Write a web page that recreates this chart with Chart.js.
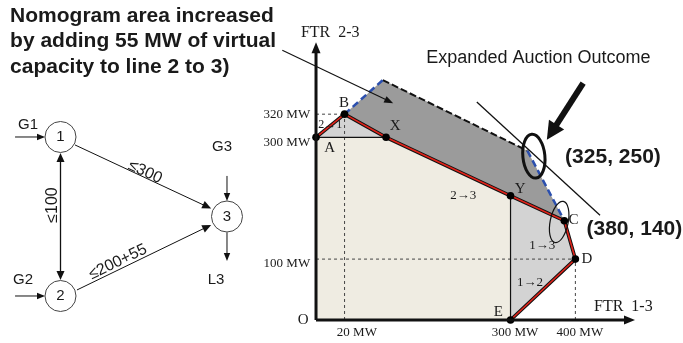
<!DOCTYPE html>
<html lang="en">
<head>
  <meta charset="UTF-8" />
  <title>FTR nomogram with virtual capacity</title>
  <style>
    body { margin: 0; background: #fff; }
    #wrap { width: 683px; height: 343px; }
  </style>
</head>
<body>

  <div id="wrap"><canvas id="nomogram"></canvas></div>

  <script src="https://cdn.jsdelivr.net/npm/chart.js"></script>

  <script>
    // nomogram corners, in the (schematic) FTR 1-3 / FTR 2-3 units of the drawing
    const ptO = [0, 0];
    const ptA = [0, 300];
    const ptB = [44, 338];
    const ptX = [108, 300];
    const ptY = [300, 204];
    const ptC = [383, 163];
    const ptD = [400, 100];
    const ptE = [300, 0];
    const ptT1 = [103, 394];   // expanded corner above B
    const ptT2 = [326, 278];   // expanded corner at the auction outcome

    const beigeArea = [ptO, ptA, ptX, ptY, ptE];
    const triangleArea = [ptA, ptB, ptX];
    const rightArea = [ptY, ptC, ptD, ptE];
    const addedArea = [ptB, ptT1, ptT2, ptC, ptY, ptX];
    const boundary = [ptA, ptB, ptX, ptY, ptC, ptD, ptE];
    const vertices = [ptA, ptB, ptX, ptY, ptC, ptD, ptE];
    const guides = [[[44, 0], [44, 338]], [[0, 338], [44, 338]], [[0, 100], [400, 100]], [[400, 0], [400, 100]]];
    const solidEdges = [[ptA, ptX], [ptY, ptE]];
    const blueEdges = [[ptB, ptT1], [ptT2, ptC]];
    const topEdge = [ptT1, ptT2];

    // tick labels (value where the label sits)
    const yTickPos = [337, 292, 92];
    const yTickText = ['320 MW', '300 MW', '100 MW'];
    const xTickPos = [63, 307, 407];
    const xTickText = ['20 MW', '300 MW', '400 MW'];

    // 3-bus network (own unit coordinates)
    const nodes = [[1, 0.5], [0, 1], [0, 0]];
    const nodeNames = ['3', '1', '2'];

    const colors = {
      beige: '#efece2',
      light: '#d3d3d3',
      dark: '#9b9b9b',
      red: '#e2231a',
      blue: '#2b4fae'
    };

    const xy = pts => pts.map(([x, y]) => ({ x, y }));

    const datasets = [];
    const area = (pts, color) => datasets.push({
      data: xy(pts), fill: 'shape', backgroundColor: color, borderWidth: 0, pointRadius: 0
    });
    const path = (pts, color, width, dash) => datasets.push({
      data: xy(pts), fill: false, borderColor: color, borderWidth: width,
      borderDash: dash || [], pointRadius: 0
    });

    area(beigeArea, colors.beige);
    area(triangleArea, colors.light);
    area(rightArea, colors.light);
    area(addedArea, colors.dark);
    guides.forEach(g => path(g, '#444', 1, [3, 3]));
    solidEdges.forEach(g => path(g, '#111', 1.2));
    path(topEdge, '#111', 2, [7, 3]);
    blueEdges.forEach(g => path(g, colors.blue, 2.5, [7, 4]));
    path(boundary, '#111', 3.6);
    path(boundary, colors.red, 1.6);
    datasets.push({
      data: xy(vertices), showLine: false, pointRadius: 3.8,
      pointBackgroundColor: '#000', pointBorderWidth: 0
    });
    datasets.push({
      data: xy(nodes), xAxisID: 'nx', yAxisID: 'ny', showLine: false,
      pointRadius: 15.5, pointBackgroundColor: '#fff', pointBorderColor: '#444', pointBorderWidth: 1
    });
    // first pushed = bottom layer
    datasets.forEach((d, i) => { d.order = -i; d.clip = false; });

    // arrows: m = nomogram axes, n = network axes
    const arrows = [
      { sys: 'm', from: [0, 0], to: [0, 456], width: 3, head: 11, half: 4.5 },
      { sys: 'm', from: [0, 0], to: [492, 0], width: 3, head: 11, half: 4.5 },
      { sys: 'm', from: [-52, 443], to: [119, 356], width: 1.1, head: 9, half: 3.5 },
      { sys: 'm', from: [412, 389], to: [356, 296], width: 6, head: 18, half: 9 },
      { sys: 'm', from: [248, 358], to: [438, 172], width: 1.3, head: 0, half: 0 },
      { sys: 'n', from: [-0.273, 1], to: [-0.093, 1], width: 1, head: 8, half: 3.2 },
      { sys: 'n', from: [-0.273, 0], to: [-0.093, 0], width: 1, head: 8, half: 3.2 },
      { sys: 'n', from: [1, 0.755], to: [1, 0.597], width: 1, head: 8, half: 3.2 },
      { sys: 'n', from: [1, 0.4], to: [1, 0.22], width: 1, head: 8, half: 3.2 },
      { sys: 'n', from: [0.087, 0.95], to: [0.905, 0.55], width: 1, head: 9, half: 4 },
      { sys: 'n', from: [0.099, 0.038], to: [0.905, 0.447], width: 1, head: 9, half: 4 },
      { sys: 'n', from: [0, 0.9], to: [0, 0.1], width: 1.3, head: 9, half: 4, both: true }
    ];

    const rings = [
      { center: [336, 269], rx: 11, ry: 22, rot: -0.1, width: 3 },
      { center: [375, 161], rx: 9, ry: 21, rot: 0.2, width: 1.2 }
    ];

    const serif = '"Liberation Serif", "DejaVu Serif", serif';
    const sans = '"Liberation Sans", Arial, sans-serif';
    const labels = [
      { sys: 'm', at: [-20, 0], text: 'O', font: '15px ' + serif },
      { sys: 'm', at: [21, 282], text: 'A', font: '15px ' + serif },
      { sys: 'm', at: [43, 356], text: 'B', font: '15px ' + serif },
      { sys: 'm', at: [122, 318], text: 'X', font: '15px ' + serif },
      { sys: 'm', at: [315, 215], text: 'Y', font: '15px ' + serif },
      { sys: 'm', at: [397, 164], text: 'C', font: '15px ' + serif },
      { sys: 'm', at: [418, 100], text: 'D', font: '15px ' + serif },
      { sys: 'm', at: [281, 13], text: 'E', font: '15px ' + serif },
      { sys: 'm', at: [227, 205], text: '2\u21923', font: '13px ' + serif },
      { sys: 'm', at: [349, 123], text: '1\u21923', font: '13px ' + serif },
      { sys: 'm', at: [330, 61], text: '1\u21922', font: '13px ' + serif },
      { sys: 'm', at: [22, 320], text: '2\u21921', font: '12px ' + serif },
      { sys: 'm', at: [22, 471], text: 'FTR  2-3', font: '16px ' + serif },
      { sys: 'm', at: [474, 21], text: 'FTR  1-3', font: '16px ' + serif },
      { sys: 'm', at: [343, 430], text: 'Expanded Auction Outcome', font: '18px ' + sans },
      { sys: 'm', at: [458, 268], text: '(325, 250)', font: 'bold 21px ' + sans },
      { sys: 'm', at: [491, 149], text: '(380, 140)', font: 'bold 21px ' + sans },
      { sys: 'n', at: [-0.195, 1.075], text: 'G1', font: '15px ' + sans },
      { sys: 'n', at: [-0.225, 0.10], text: 'G2', font: '15px ' + sans },
      { sys: 'n', at: [0.97, 0.937], text: 'G3', font: '15px ' + sans },
      { sys: 'n', at: [0.934, 0.10], text: 'L3', font: '15px ' + sans },
      { sys: 'n', at: [0.508, 0.78], text: '\u2264300', font: '16px ' + sans, rot: 0.44 },
      { sys: 'n', at: [0.345, 0.214], text: '\u2264200+55', font: '16px ' + sans, rot: -0.45 },
      { sys: 'n', at: [-0.045, 0.572], text: '\u2264100', font: '16px ' + sans, rot: -Math.PI / 2 },
      { sys: 'n', at: [-0.303, 1.76], text: 'Nomogram area increased', font: 'bold 21px ' + sans, align: 'left' },
      { sys: 'n', at: [-0.303, 1.60], text: 'by adding 55 MW of virtual', font: 'bold 21px ' + sans, align: 'left' },
      { sys: 'n', at: [-0.303, 1.44], text: 'capacity to line 2 to 3)', font: 'bold 21px ' + sans, align: 'left' }
    ];
    yTickPos.forEach((v, i) => labels.push({ sys: 'm', at: [-9, v], text: yTickText[i], font: '13px ' + serif, align: 'right' }));
    xTickPos.forEach((v, i) => labels.push({ sys: 'm', at: [v, -21], text: xTickText[i], font: '13px ' + serif }));
    nodes.forEach((p, i) => labels.push({ sys: 'n', at: p, text: nodeNames[i], font: '15px ' + sans }));

    function arrowHead(ctx, tip, ang, len, half) {
      const c = Math.cos(ang), s = Math.sin(ang);
      ctx.beginPath();
      ctx.moveTo(tip[0], tip[1]);
      ctx.lineTo(tip[0] - len * c - half * s, tip[1] - len * s + half * c);
      ctx.lineTo(tip[0] - len * c + half * s, tip[1] - len * s - half * c);
      ctx.closePath();
      ctx.fill();
    }

    const drawings = {
      id: 'drawings',
      afterDatasetsDraw(chart) {
        const ctx = chart.ctx;
        const P = (p, sys) => {
          const xs = chart.scales[sys === 'n' ? 'nx' : 'x'];
          const ys = chart.scales[sys === 'n' ? 'ny' : 'y'];
          return [xs.getPixelForValue(p[0]), ys.getPixelForValue(p[1])];
        };
        ctx.save();
        ctx.fillStyle = ctx.strokeStyle = '#111';

        arrows.forEach(a => {
          const s = P(a.from, a.sys), e = P(a.to, a.sys);
          const ang = Math.atan2(e[1] - s[1], e[0] - s[0]);
          const back = a.head * 0.8;
          const c = Math.cos(ang), n = Math.sin(ang);
          ctx.lineWidth = a.width;
          ctx.beginPath();
          ctx.moveTo(a.both ? s[0] + back * c : s[0], a.both ? s[1] + back * n : s[1]);
          ctx.lineTo(e[0] - back * c, e[1] - back * n);
          ctx.stroke();
          if (a.head) arrowHead(ctx, e, ang, a.head, a.half);
          if (a.both) arrowHead(ctx, s, ang + Math.PI, a.head, a.half);
        });

        rings.forEach(r => {
          const c = P(r.center, 'm');
          ctx.lineWidth = r.width;
          ctx.beginPath();
          ctx.ellipse(c[0], c[1], r.rx, r.ry, r.rot, 0, Math.PI * 2);
          ctx.stroke();
        });

        labels.forEach(l => {
          const p = P(l.at, l.sys);
          ctx.save();
          ctx.translate(p[0], p[1]);
          if (l.rot) ctx.rotate(l.rot);
          ctx.font = l.font;
          ctx.textAlign = l.align || 'center';
          ctx.textBaseline = 'middle';
          ctx.fillStyle = '#1a1a1a';
          ctx.fillText(l.text, 0, 0);
          ctx.restore();
        });
        ctx.restore();
      }
    };

    new Chart(document.getElementById('nomogram'), {
      type: 'line',
      data: { datasets },
      options: {
        responsive: true,
        maintainAspectRatio: false,
        animation: false,
        events: [],
        layout: { padding: 0, autoPadding: false },
        plugins: {
          legend: { display: false },
          tooltip: { enabled: false },
          filler: { drawTime: 'beforeDatasetDraw' }
        },
        elements: { line: { tension: 0 } },
        scales: {
          x: { type: 'linear', min: -487.4, max: 566, display: false },
          y: { type: 'linear', min: -37.8, max: 525.5, display: false },
          nx: { type: 'linear', axis: 'x', min: -0.3634, max: 3.739, display: false },
          ny: { type: 'linear', axis: 'y', min: -0.2956, max: 1.8616, display: false }
        }
      },
      plugins: [drawings]
    });
  </script>
</body>
</html>
